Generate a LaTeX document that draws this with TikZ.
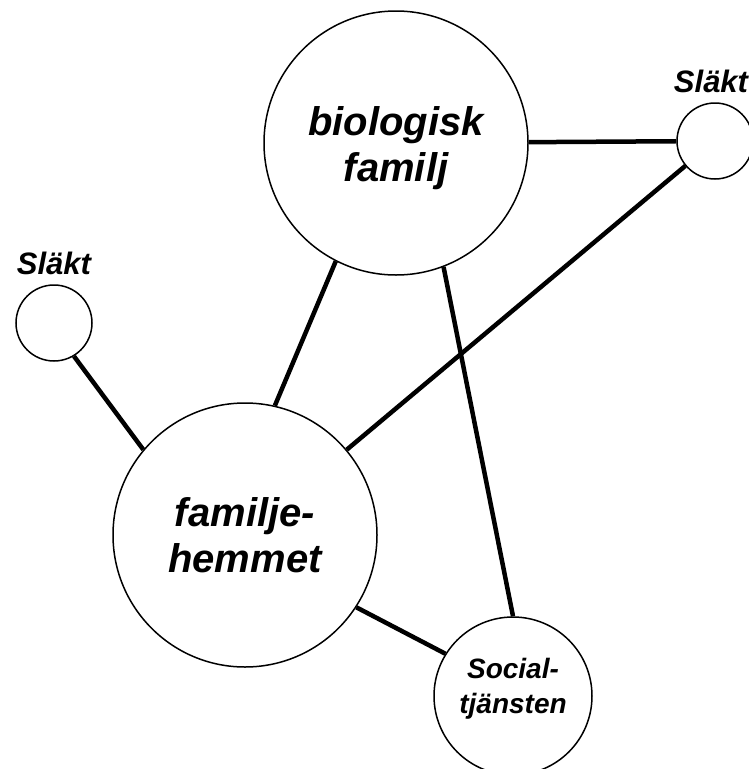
\documentclass[tikz,border=0pt]{standalone}
\usepackage{fontspec}
\setmainfont{Liberation Sans}
\usetikzlibrary{positioning}
\begin{document}
\begin{tikzpicture}[x=1pt,y=1pt]
     \tikzstyle{famnode}=[circle, draw, line width=1.5pt, inner sep=0pt, align=center, minimum size=264pt, font=\bfseries\itshape\fontsize{40}{46}\selectfont]
     \tikzstyle{socnode}=[famnode, minimum size=158pt]
     \tikzstyle{famtext}=[inner sep=0pt, align=center, font=\bfseries\itshape\fontsize{40}{46}\selectfont]
     \tikzstyle{soctext}=[famtext, font=\bfseries\itshape\fontsize{28}{35}\selectfont]
     \tikzstyle{slaktnode}=[circle, draw, line width=1.5pt, minimum size=76pt]
     \tikzstyle{slakttext}=[inner sep=0pt, font=\bfseries\itshape\fontsize{31}{36}\selectfont]
     \tikzstyle{link}=[draw, line width=4.5pt]
     \useasboundingbox (0,0) rectangle (749,-769);
     % circles
     \node[famnode] (bio) at (396,-143) {};
     \node[famtext] (biotext) at ([yshift=-5pt]bio.center) {biologisk\\familj};
     \node[famnode] (fam) at (245,-535) {familje-\\hemmet};
     \node[socnode] (soc) at (513,-696) {};
     \node[soctext] (soctext) at ([yshift=7pt]soc.center) {Social-\\tj\"ansten};
     \node[slaktnode] (slaktleft) at (54,-323) {};
     \node[slaktnode] (slaktright) at (715,-141) {};
     \node[slakttext, above=9pt of slaktleft] (slaktlefttext) {Sl\"akt};
     \node[slakttext, above=9pt of slaktright, xshift=-4pt] (slaktrighttext) {Sl\"akt};
     % links
     \draw[link] (bio) -- (slaktright);
     \draw[link] (slaktright) -- (fam);
     \draw[link] (bio.243) -- (fam.77);
     \draw[link] (bio.-69) -- (soc.north);
     \draw[link] (fam.-33) -- (soc.148);
     \draw[link] (slaktleft.-59) -- (fam.140);
\end{tikzpicture}
\end{document}
